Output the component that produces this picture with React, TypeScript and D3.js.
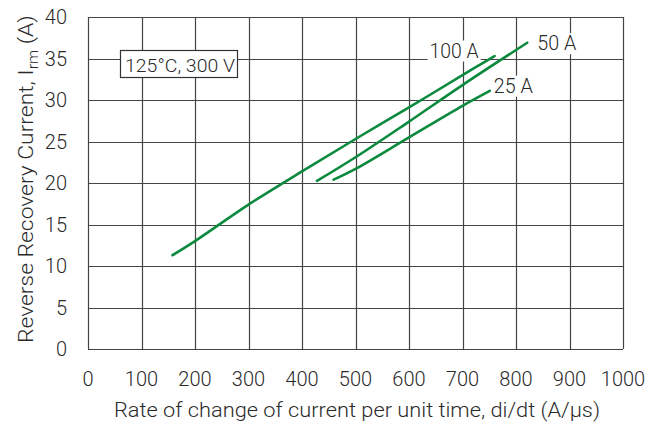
import { useEffect, useRef } from "react";
import { select, scaleLinear, line, curveCatmullRom, range } from "d3";

// data
const xTicks = range(0, 1001, 100);
const yTicks = range(0, 41, 5);

const series100A: [number, number][] = [
  [158, 11.3], [200, 13.0], [300, 17.4], [400, 21.4], [500, 25.3],
  [600, 29.1], [700, 33.0], [760, 35.3],
];
const series50A: [number, number][] = [
  [428, 20.25], [500, 23.1], [600, 27.4], [700, 31.8], [821, 36.9],
];
const series25A: [number, number][] = [
  [459, 20.4], [500, 21.7], [600, 25.5], [700, 29.3], [751, 31.1],
];

const seriesNames = ["100 A", "50 A", "25 A"];

const W = 665;
const H = 427;
const M = { left: 88, right: 42, top: 17, bottom: 78 };
const FONT = "Roboto, 'Liberation Sans', Arial, sans-serif";
const INK = "#2a2a2a";
const GREEN = "#0b8a3e";

export default function App() {
  const ref = useRef<SVGSVGElement>(null);

  useEffect(() => {
    const svg = select(ref.current);
    svg.selectAll("*").remove();

    const x = scaleLinear([0, 1000], [M.left, W - M.right]);
    const y = scaleLinear([0, 40], [H - M.bottom, M.top]);

    const g = svg.append("g");

    // grid
    g.selectAll(".vx")
      .data(xTicks)
      .join("line")
      .attr("x1", (d) => Math.round(x(d)) + 0.5)
      .attr("x2", (d) => Math.round(x(d)) + 0.5)
      .attr("y1", y(0))
      .attr("y2", y(40))
      .attr("stroke", "#444")
      .attr("stroke-width", 1.2);
    g.selectAll(".hy")
      .data(yTicks)
      .join("line")
      .attr("y1", (d) => Math.round(y(d)) + 0.5)
      .attr("y2", (d) => Math.round(y(d)) + 0.5)
      .attr("x1", x(0))
      .attr("x2", x(1000))
      .attr("stroke", "#444")
      .attr("stroke-width", 1.2);

    const txt = (sel: any, size: number) =>
      sel
        .attr("font-family", FONT)
        .attr("font-weight", 300)
        .attr("font-size", size)
        .attr("fill", INK);

    // tick labels
    txt(
      g.selectAll(".xl")
        .data(xTicks)
        .join("text")
        .attr("x", (d) => x(d))
        .attr("y", y(0) + 37)
        .attr("text-anchor", "middle"),
      20
    ).text((d) => d);
    txt(
      g.selectAll(".yl")
        .data(yTicks)
        .join("text")
        .attr("x", x(0) - 21)
        .attr("y", (d) => y(d) + 7.3)
        .attr("text-anchor", "end"),
      20
    ).text((d) => d);

    // annotation box
    g.append("rect")
      .attr("x", 120.5)
      .attr("y", 50.5)
      .attr("width", 117)
      .attr("height", 27)
      .attr("fill", "#fff")
      .attr("stroke", "#333")
      .attr("stroke-width", 1.2);
    txt(
      g.append("text")
        .attr("x", 125)
        .attr("y", 71.7)
        .attr("textLength", 110)
        .attr("lengthAdjust", "spacingAndGlyphs"),
      19
    ).text("125°C, 300 V");

    // curves
    const gen = line<[number, number]>()
      .x((d) => x(d[0]))
      .y((d) => y(d[1]))
      .curve(curveCatmullRom.alpha(0.5));
    [series100A, series50A, series25A].forEach((s) => {
      g.append("path")
        .attr("d", gen(s))
        .attr("fill", "none")
        .attr("stroke", GREEN)
        .attr("stroke-width", 2.6)
        .attr("stroke-linecap", "round");
    });

    // series labels, placed next to the curve ends
    const ends = [series100A, series50A, series25A].map((s) => s[s.length - 1]);
    const offsets: [number, number, number][] = [
      [-65, 1.5, 49],
      [10, 7.5, 39],
      [4, 1.8, 39],
    ];
    seriesNames.forEach((name, i) => {
      const lx = x(ends[i][0]) + offsets[i][0];
      const ly = y(ends[i][1]) + offsets[i][1];
      g.append("rect")
        .attr("x", lx - 2)
        .attr("y", ly - 17)
        .attr("width", offsets[i][2] + 4)
        .attr("height", 21)
        .attr("fill", "#fff");
      txt(
        g.append("text")
          .attr("x", lx)
          .attr("y", ly)
          .attr("textLength", offsets[i][2])
          .attr("lengthAdjust", "spacingAndGlyphs"),
        20
      ).text(name);
    });

    // axis titles
    txt(
      g.append("text")
        .attr("x", 114)
        .attr("y", 417)
        .attr("textLength", 486)
        .attr("lengthAdjust", "spacingAndGlyphs"),
      20
    ).text("Rate of change of current per unit time, di/dt (A/µs)");

    const yt = txt(
      g.append("text").attr("text-anchor", "start"),
      20
    );
    yt.append("tspan").text("Reverse Recovery Current, I");
    yt.append("tspan").attr("font-size", 14).attr("dy", 5).text("rm");
    yt.append("tspan").attr("dy", -5).text(" (A)");
    // stretch the rotated title to the span it has in the reference (y 343 -> 15)
    const w = (yt.node() as SVGTextElement).getBBox().width || 328;
    yt.attr("transform", `translate(33,343) rotate(-90) scale(${328 / w},1)`);
  }, []);

  return (
    <svg
      ref={ref}
      width={W}
      height={H}
      style={{ position: "absolute", left: 0, top: 0, background: "#fff" }}
    />
  );
}
